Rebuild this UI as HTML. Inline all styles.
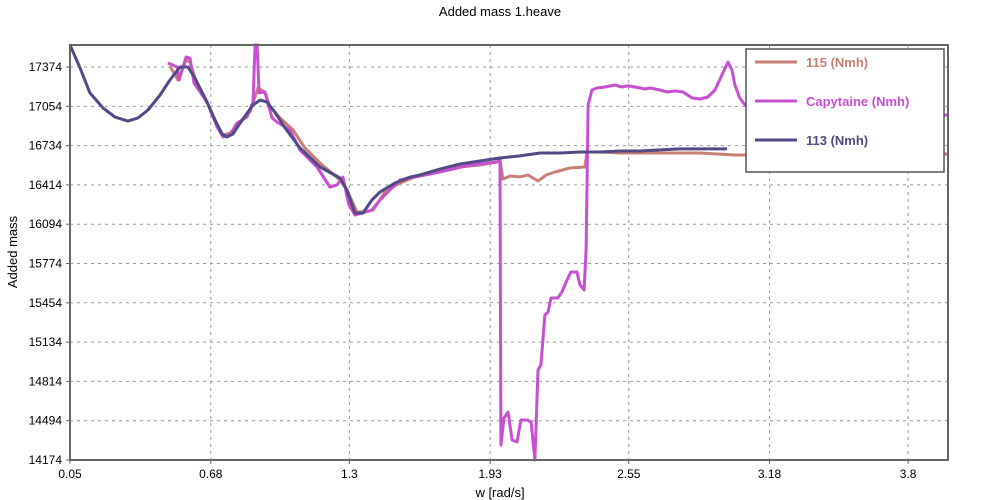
<!DOCTYPE html>
<html><head><meta charset="utf-8"><style>
html,body{margin:0;padding:0;background:#fff;}
svg{display:block;font-family:"Liberation Sans","DejaVu Sans",sans-serif;}
</style></head><body>
<svg id="chart" width="1000" height="500">
<text x="500" y="16" text-anchor="middle" font-size="13" fill="#000">Added mass 1.heave</text>
<g id="grid"></g>
<g id="series"></g>
<rect x="70" y="45" width="878" height="415" fill="none" stroke="#666" stroke-width="2"/>
<g id="ticks"></g>
<text x="500" y="497" text-anchor="middle" font-size="13">w [rad/s]</text>
<text transform="translate(17,252) rotate(-90)" text-anchor="middle" font-size="13">Added mass</text>
<g>
<rect x="746" y="49" width="198" height="123" fill="#fff" stroke="#555" stroke-width="1.5"/>
<line x1="755" y1="62" x2="797" y2="62" stroke="#c97f73" stroke-width="3"/>
<text x="806" y="67" font-size="13" font-weight="bold" fill="#c97f73">115 (Nmh)</text>
<line x1="755" y1="101" x2="797" y2="101" stroke="#c84fd2" stroke-width="3"/>
<text x="806" y="106" font-size="13" font-weight="bold" fill="#c84fd2">Capytaine (Nmh)</text>
<line x1="755" y1="140" x2="797" y2="140" stroke="#524a86" stroke-width="3"/>
<text x="806" y="145" font-size="13" font-weight="bold" fill="#524a86">113 (Nmh)</text>
</g>
</svg>
<script>
const xTicks=[0.05,0.68,1.3,1.93,2.55,3.18,3.8];
const xTickLabels=["0.05","0.68","1.3","1.93","2.55","3.18","3.8"];
const yTicks=[14174,14494,14814,15134,15454,15774,16094,16414,16734,17054,17374];
const yTickLabels=["14174","14494","14814","15134","15454","15774","16094","16414","16734","17054","17374"];
const w113=[0.05,0.095,0.139,0.198,0.251,0.309,0.354,0.399,0.453,0.497,0.542,0.578,0.609,0.654,0.699,0.730,0.752,0.779,0.811,0.869,0.900,0.931,0.967,1.012,1.079,1.169,1.258,1.289,1.325,1.361,1.401,1.437,1.504,1.571,1.616,1.706,1.795,1.884,1.974,2.063,2.153,2.242,2.332,2.421,2.511,2.600,2.690,2.779,2.869,2.990];
const v113=[17553,17366,17163,17040,16967,16934,16959,17024,17146,17268,17374,17374,17285,17122,16943,16829,16804,16829,16918,17065,17105,17089,17008,16878,16715,16560,16470,16373,16185,16185,16291,16356,16430,16478,16495,16543,16584,16609,16633,16650,16674,16674,16682,16682,16690,16690,16699,16707,16707,16707];
const w115=[0.497,0.533,0.569,0.587,0.614,0.663,0.708,0.735,0.766,0.811,0.855,0.891,0.922,0.945,0.990,1.048,1.101,1.169,1.258,1.289,1.334,1.370,1.406,1.459,1.526,1.616,1.705,1.795,1.884,1.960,1.974,1.987,2.019,2.063,2.099,2.144,2.180,2.220,2.287,2.354,2.363,2.421,2.511,2.690,2.869,3.025,3.070,3.316,3.978];
const v115=[17382,17268,17431,17415,17252,17089,16902,16820,16837,16918,17008,17203,17171,17048,16959,16861,16715,16592,16454,16373,16194,16194,16210,16356,16430,16495,16527,16560,16576,16601,16617,16462,16487,16479,16495,16446,16495,16519,16552,16560,16682,16682,16674,16674,16674,16658,16658,16666,16666];
const wCap=[0.488,0.529,0.538,0.569,0.587,0.605,0.632,0.663,0.708,0.735,0.766,0.797,0.842,0.869,0.878,0.887,0.896,0.922,0.954,0.976,1.034,1.079,1.155,1.213,1.244,1.271,1.298,1.325,1.401,1.437,1.526,1.705,1.840,1.960,1.974,1.978,1.992,2.010,2.028,2.050,2.068,2.095,2.113,2.130,2.144,2.157,2.175,2.189,2.202,2.220,2.233,2.251,2.274,2.291,2.318,2.332,2.350,2.359,2.368,2.385,2.408,2.444,2.488,2.520,2.546,2.578,2.623,2.645,2.690,2.721,2.757,2.793,2.833,2.869,2.904,2.936,2.967,2.994,3.012,3.025,3.047,3.070,3.137,3.978];
const vCap=[17407,17374,17268,17456,17447,17244,17171,17089,16886,16804,16820,16918,16967,17089,17553,17553,17163,17171,16959,16926,16861,16698,16560,16397,16413,16478,16251,16169,16210,16291,16454,16519,16576,16601,16617,14296,14516,14565,14337,14321,14500,14500,14483,14174,14907,14948,15355,15379,15493,15493,15493,15542,15640,15705,15705,15599,15558,15884,17065,17187,17203,17211,17228,17211,17220,17211,17195,17203,17187,17171,17179,17171,17122,17114,17130,17187,17309,17415,17350,17228,17122,17065,16983,16983];
const X0=70,X1=948,Y0=460,Y1=45;
const xmin=0.05,xmax=0.05+(X1-X0)/223.5;
const ymin=14174,ymax=14174+(Y0-Y1)*8.143;
const xs=w=>X0+(w-xmin)/(xmax-xmin)*(X1-X0);
const ys=v=>Y0-(v-ymin)/(ymax-ymin)*(Y0-Y1);
const NS="http://www.w3.org/2000/svg";
const grid=document.getElementById('grid'),ticks=document.getElementById('ticks'),ser=document.getElementById('series');
function mk(tag,at){const e=document.createElementNS(NS,tag);for(const k in at)e.setAttribute(k,at[k]);return e;}
xTicks.forEach((t,i)=>{const x=xs(t);
 const g=mk('line',{x1:x,x2:x,y1:Y1,y2:Y0,stroke:'#999','stroke-dasharray':'3,4','stroke-width':1});
 
 grid.appendChild(g);
 const tk=mk('line',{x1:x,x2:x,y1:Y0,y2:Y0+4,stroke:'#666'});
 
 ticks.appendChild(tk);
 const tx=mk('text',{x:x,y:Y0+18,'text-anchor':'middle','font-size':12});tx.textContent=xTickLabels[i];
 
 ticks.appendChild(tx);});
yTicks.forEach((t,i)=>{const y=ys(t);
 if(i>0){const g=mk('line',{x1:X0,x2:X1,y1:y,y2:y,stroke:'#999','stroke-dasharray':'3,4','stroke-width':1});
 
 grid.appendChild(g);}
 const tk=mk('line',{x1:X0-4,x2:X0,y1:y,y2:y,stroke:'#666'});
 
 ticks.appendChild(tk);
 const tx=mk('text',{x:X0-8,y:y+4,'text-anchor':'end','font-size':12});tx.textContent=yTickLabels[i];
 
 ticks.appendChild(tx);});
function line(ws,vs,color,name){const d=ws.map((w,i)=>(i?'L':'M')+xs(w).toFixed(1)+','+ys(vs[i]).toFixed(1)).join('');
 const p=mk('path',{d:d,fill:'none',stroke:color,'stroke-width':3,'stroke-linejoin':'round'});
 
 ser.appendChild(p);}
line(w115,v115,'#c97f73','series-115-line');
line(wCap,vCap,'#c84fd2','series-capytaine-line');
line(w113,v113,'#524a86','series-113-line');
</script>
</body></html>
